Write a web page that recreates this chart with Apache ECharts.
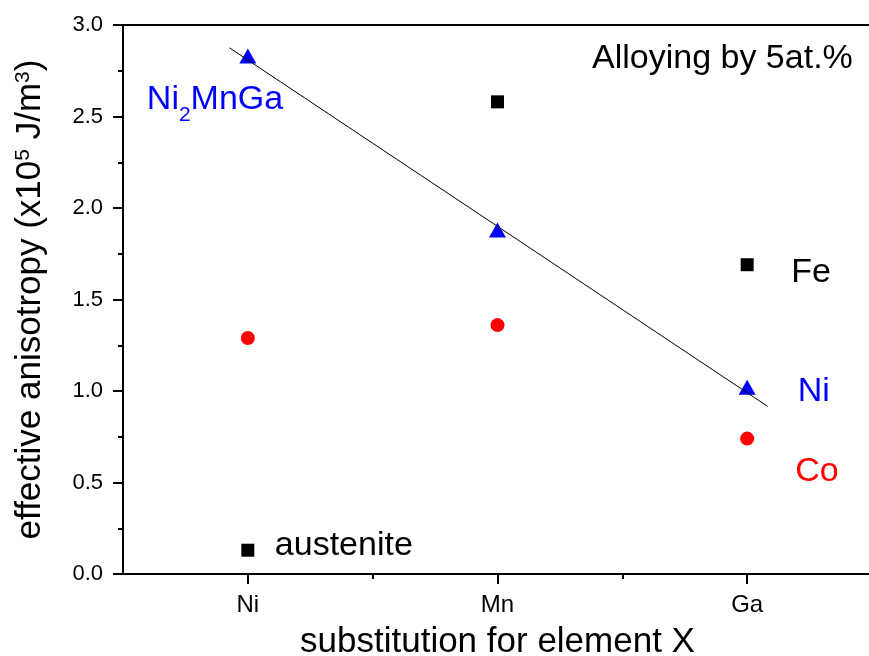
<!DOCTYPE html>
<html>
<head>
<meta charset="utf-8">
<script src="https://cdn.jsdelivr.net/npm/echarts@6/dist/echarts.min.js"></script>
<style>
  html, body { margin: 0; padding: 0; background: #fff; }
  #chart { width: 869px; height: 656px; }
</style>
</head>
<body>
<div id="chart"></div>
<script>
// Substituted element X, placed at x = 1, 2, 3
const elements = ['Ni', 'Mn', 'Ga'];
const xPositions = [1, 2, 3];

// Effective anisotropy, in 10^5 J/m^3
const feValues = [0.13, 2.58, 1.69];   // black squares
const coValues = [1.29, 1.36, 0.74];   // red circles
const niValues = [2.83, 1.88, 1.02];   // blue triangles

// Straight-line fit through the Ni series (end points)
const fitX = [0.927, 3.082];
const fitY = [2.875, 0.916];

// Point annotations: text and its offset from the point centre (px)
const feNotes = [{ text: 'austenite', dx: 27, dy: -5 }, null, { text: 'Fe', dx: 44, dy: 7.5 }];
const coNotes = [null, null, { text: 'Co', dx: 48, dy: 33.5 }];
const niNotes = [{ text: '{b|Ni}{sub|2}{b|MnGa}', dx: -101, dy: 44 }, null, { text: 'Ni', dx: 50.5, dy: 4.5 }];

const FONT = 'Liberation Sans, Arial, Helvetica, sans-serif';
const chart = echarts.init(document.getElementById('chart'), null, { renderer: 'canvas' });

function pointsWithNotes(values, notes, color) {
  return values.map((v, i) => {
    const item = { value: [xPositions[i], v] };
    const n = notes[i];
    if (n) {
      item.label = {
        show: true,
        position: 'inside',
        align: 'left',
        verticalAlign: 'middle',
        offset: [n.dx, n.dy],
        formatter: n.text,
        color: color,
        fontFamily: FONT,
        fontSize: 34,
        rich: {
          b: { fontSize: 34, lineHeight: 34, verticalAlign: 'top', color: color, fontFamily: FONT },
          sub: { fontSize: 21, lineHeight: 21, padding: [22, 0, 0, 0], verticalAlign: 'top', color: color, fontFamily: FONT }
        }
      };
    }
    return item;
  });
}

const axisLineStyle = { color: '#000', width: 2 };

const option = {
  animation: false,
  backgroundColor: '#ffffff',
  grid: {
    left: 123, right: -3, top: 25, bottom: 82,
    outerBoundsMode: 'none',
    containLabel: false,
    show: false
  },
  xAxis: [{
    type: 'value',
    min: 0.5, max: 3.5,
    name: 'substitution for element X',
    nameLocation: 'middle',
    nameGap: 51,
    nameTextStyle: { fontFamily: FONT, fontSize: 35, color: '#000' },
    axisLine: { show: true, onZero: false, lineStyle: axisLineStyle },
    axisTick: { show: true, inside: false, length: 10, lineStyle: axisLineStyle, customValues: xPositions },
    axisLabel: {
      show: true, customValues: xPositions, margin: 19,
      fontFamily: FONT, fontSize: 24, color: '#000',
      formatter: v => elements[xPositions.indexOf(Math.round(v))] || ''
    },
    splitLine: { show: false }
  }, {
    // short minor ticks between the categories
    type: 'value',
    min: 0.5, max: 3.5,
    position: 'bottom',
    axisLine: { show: false, onZero: false },
    axisTick: { show: true, inside: false, length: 5, lineStyle: axisLineStyle, customValues: [1.5, 2.5] },
    axisLabel: { show: false },
    splitLine: { show: false }
  }, {
    // top frame line
    type: 'value',
    min: 0.5, max: 3.5,
    position: 'top',
    axisLine: { show: true, onZero: false, lineStyle: axisLineStyle },
    axisTick: { show: false },
    axisLabel: { show: false },
    splitLine: { show: false }
  }],
  yAxis: {
    type: 'value',
    min: 0, max: 3, interval: 0.5,
    name: '{b|effective anisotropy (x10}{sup|5}{b| J/m}{sup|3}{b|)}',
    nameLocation: 'middle',
    nameGap: 75,
    nameRotate: 90,
    nameTextStyle: {
      fontFamily: FONT, fontSize: 35, color: '#000',
      rich: {
        b: { fontFamily: FONT, fontSize: 35, lineHeight: 35, verticalAlign: 'top', color: '#000' },
        sup: { fontFamily: FONT, fontSize: 21, lineHeight: 10, verticalAlign: 'top', color: '#000' }
      }
    },
    axisLine: { show: true, onZero: false, lineStyle: axisLineStyle },
    axisTick: { show: true, inside: false, length: 10, lineStyle: axisLineStyle },
    minorTick: { show: true, splitNumber: 2, length: 5, lineStyle: axisLineStyle },
    axisLabel: {
      margin: 20, fontFamily: FONT, fontSize: 22, color: '#000',
      formatter: v => v.toFixed(1)
    },
    splitLine: { show: false },
    minorSplitLine: { show: false }
  },
  graphic: [{
    type: 'text',
    left: 592, top: 42,
    style: { text: 'Alloying by 5at.%', font: '34px ' + FONT, fill: '#000' }
  }],
  series: [{
    name: 'Fe',
    type: 'scatter',
    symbol: 'rect',
    symbolSize: 13,
    itemStyle: { color: '#000', opacity: 1 },
    data: pointsWithNotes(feValues, feNotes, '#000'),
    z: 3
  }, {
    name: 'Co',
    type: 'scatter',
    symbol: 'circle',
    symbolSize: 14,
    itemStyle: { color: '#ff0000', opacity: 1 },
    data: pointsWithNotes(coValues, coNotes, '#ff0000'),
    z: 3
  }, {
    name: 'Ni',
    type: 'scatter',
    symbol: 'triangle',
    symbolSize: [17, 15],
    itemStyle: { color: '#0000ff', opacity: 1 },
    data: pointsWithNotes(niValues, niNotes, '#0000ff'),
    z: 3
  }, {
    name: 'fit',
    type: 'line',
    data: fitX.map((x, i) => [x, fitY[i]]),
    showSymbol: false,
    symbol: 'none',
    lineStyle: { color: '#000', width: 1 },
    z: 4,
    silent: true
  }]
};

chart.setOption(option);
</script>
</body>
</html>
